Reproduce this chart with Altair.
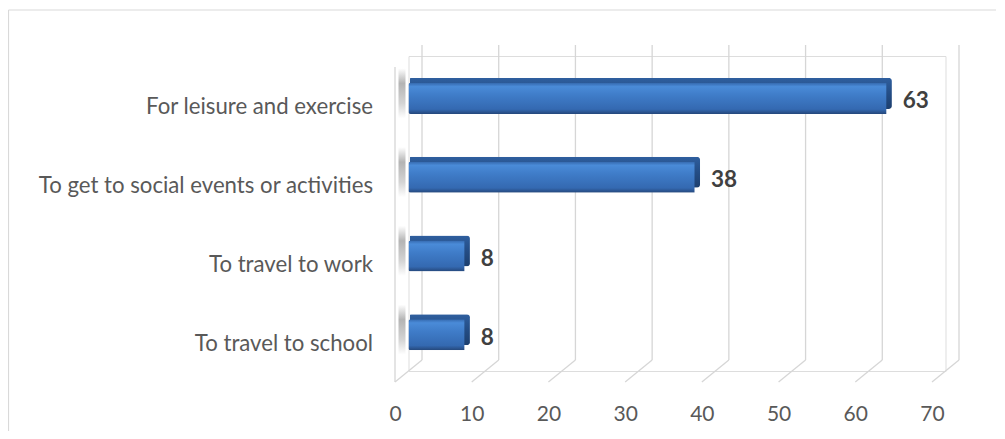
import altair as alt
import pandas as pd

categories = ["For leisure and exercise", "To get to social events or activities",
              "To travel to work", "To travel to school"]
values = [63, 38, 8, 8]
tick_values = [0, 10, 20, 30, 40, 50, 60, 70]

W, H = 537, 315
DX, DY = 13.5, 11  # depth offsets (half depth) for the 3D look

df = pd.DataFrame({"category": categories, "value": values})
ticks = pd.DataFrame({"tick": tick_values})

FONT = "Lato"
ysc = alt.Scale(domain=categories, paddingInner=0, paddingOuter=0)
xsc = alt.Scale(domain=[0, 70], nice=False, zero=True)

xaxis = alt.Axis(values=tick_values, grid=False, domain=False, ticks=False,
                 labelOffset=-DX, labelPadding=32, labelFontSize=21,
                 labelFont=FONT, labelColor="#595959", title=None, labelFlush=False)
yaxis = alt.Axis(domain=False, ticks=False, labelPadding=36, labelFontSize=22.2,
                 labelFont=FONT, labelColor="#595959", title=None,
                 labelOffset=12, labelLimit=400)

GRID = "#d6d6d6"
# back wall gridlines
grid = alt.Chart(ticks).mark_rule(color=GRID, strokeWidth=1.3,
                                  yOffset=-DY, y2Offset=-DY, xOffset=DX).encode(
    x=alt.X("tick:Q", scale=xsc, axis=xaxis),
    y=alt.value(0),
    y2=alt.value(H),
)
# floor diagonals
floor = alt.Chart(ticks).mark_rule(color=GRID, strokeWidth=1.3,
                                   xOffset=DX, x2Offset=-DX, yOffset=-DY, y2Offset=DY).encode(
    x=alt.X("tick:Q", scale=xsc),
    x2="tick:Q",
    y=alt.value(H),
    y2=alt.value(H),
)
# front edge of the side wall
side = alt.Chart(ticks).transform_filter("datum.tick == 0").mark_rule(
    color=GRID, strokeWidth=1.3, xOffset=-DX, yOffset=DY, y2Offset=DY).encode(
    x=alt.X("tick:Q", scale=xsc),
    y=alt.value(0),
    y2=alt.value(H),
)

# frame of the chart area (cut off at right and bottom like the reference)
frame_top = alt.Chart(ticks).transform_filter("datum.tick == 0").mark_rule(
    color="#d9d9d9", strokeWidth=1.2).encode(
    x=alt.value(-400), x2=alt.value(W + 60), y=alt.value(-46)
)
frame_left = alt.Chart(ticks).transform_filter("datum.tick == 0").mark_rule(
    color="#d9d9d9", strokeWidth=1.2).encode(
    x=alt.value(-400), y=alt.value(-46), y2=alt.value(H + 70)
)

# soft shadow at the left end of each bar
shadow = alt.Chart(df).transform_calculate(base="0").mark_rect(
    xOffset=-10, x2Offset=-3, height=50, yOffset=-2,
    fill=alt.Gradient(gradient="linear", x1=0, y1=0, x2=0, y2=1,
                      stops=[alt.GradientStop(color="#ffffff", offset=0),
                             alt.GradientStop(color="#b4b4b4", offset=0.3),
                             alt.GradientStop(color="#d4d4d4", offset=0.7),
                             alt.GradientStop(color="#ffffff", offset=1)])
).encode(
    x=alt.X("base:Q", scale=xsc),
    x2="base:Q",
    y=alt.Y("category:N", scale=ysc, axis=yaxis),
)

back = alt.Chart(df).mark_bar(
    size=31, cornerRadius=3, xOffset=1.5, x2Offset=1.5, yOffset=-2,
    fill=alt.Gradient(gradient="linear", x1=0, y1=0, x2=0, y2=1,
                      stops=[alt.GradientStop(color="#2f5f9f", offset=0),
                             alt.GradientStop(color="#244d85", offset=0.5),
                             alt.GradientStop(color="#1d3f6e", offset=1)])
).encode(
    x=alt.X("value:Q", scale=xsc),
    y=alt.Y("category:N", scale=ysc),
)

front = alt.Chart(df).mark_bar(
    size=31, cornerRadius=2, xOffset=-5.5, x2Offset=-5.5, yOffset=3,
    fill=alt.Gradient(gradient="linear", x1=0, y1=0, x2=0, y2=1,
                      stops=[alt.GradientStop(color="#3569ae", offset=0),
                             alt.GradientStop(color="#4a8bd8", offset=0.12),
                             alt.GradientStop(color="#3f7cc8", offset=0.4),
                             alt.GradientStop(color="#3469b1", offset=0.85),
                             alt.GradientStop(color="#25487c", offset=1)])
).encode(
    x=alt.X("value:Q", scale=xsc),
    y=alt.Y("category:N", scale=ysc),
)

labels = alt.Chart(df).mark_text(
    align="left", baseline="middle", dx=11, dy=6, fontSize=22.5, fontWeight="bold",
    font=FONT, color="#404040"
).encode(
    x=alt.X("value:Q", scale=xsc),
    y=alt.Y("category:N", scale=ysc),
    text="value:Q",
)

chart = alt.layer(grid, frame_top, frame_left, floor, side, shadow, back, front, labels).properties(
    width=W, height=H,
    autosize=alt.AutoSizeParams(type="none"),
    padding={"left": 400.5, "top": 48, "right": 50, "bottom": 60},
).configure_view(stroke=None).configure_axis(
    grid=False, domain=False, ticks=False, title=None
).configure(background="white")

chart.save("out.html", embed_options={"renderer": "svg", "actions": False})
